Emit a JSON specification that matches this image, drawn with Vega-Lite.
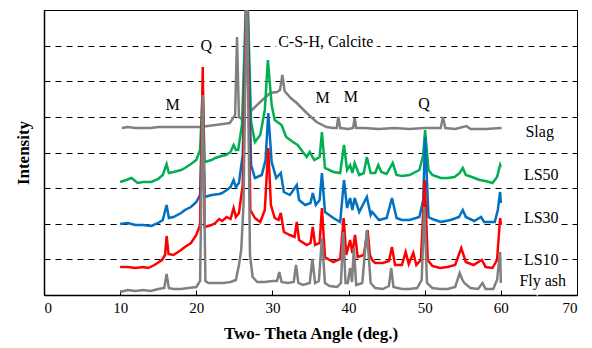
{
 "$schema": "https://vega.github.io/schema/vega-lite/v6.json",
 "width": 533, "height": 285,
 "autosize": {"type": "none"},
 "padding": {"left": 44, "top": 10, "right": 15, "bottom": 53},
 "background": "white",
 "config": {"view": {"stroke": "black", "strokeWidth": 1}, "font": "Liberation Serif"},
 "datasets": {
  "flyash": [
   {"t":10,"v":3},{"t":11,"v":5},{"t":12,"v":4},{"t":13,"v":5},{"t":14,"v":4},{"t":15,"v":6},{"t":15.8,"v":7},{"t":16.1,"v":21},{"t":16.4,"v":7},{"t":17,"v":6},{"t":18,"v":6},{"t":19,"v":7},{"t":20,"v":8},{"t":20.5,"v":14},{"t":20.85,"v":200},{"t":21.2,"v":14},{"t":21.6,"v":12},{"t":22.5,"v":12},{"t":23.5,"v":12},{"t":24.5,"v":13},{"t":25.2,"v":15},{"t":25.6,"v":30},{"t":25.9,"v":45},{"t":26.2,"v":90},{"t":26.65,"v":320},{"t":27.05,"v":40},{"t":27.4,"v":18},{"t":28,"v":13},{"t":29,"v":13},{"t":30,"v":14},{"t":30.6,"v":14},{"t":30.9,"v":23},{"t":31.2,"v":13},{"t":32,"v":12},{"t":32.8,"v":13},{"t":33.1,"v":30},{"t":33.4,"v":12},{"t":34,"v":10},{"t":34.9,"v":12},{"t":35.25,"v":36},{"t":35.6,"v":12},{"t":36.1,"v":14},{"t":36.5,"v":57},{"t":36.9,"v":12},{"t":37.5,"v":9},{"t":38.5,"v":8},{"t":39,"v":12},{"t":39.3,"v":63},{"t":39.6,"v":12},{"t":39.9,"v":12},{"t":40.2,"v":27},{"t":40.45,"v":13},{"t":40.7,"v":47},{"t":41,"v":10},{"t":41.8,"v":12},{"t":42.4,"v":65},{"t":42.9,"v":12},{"t":43.5,"v":7},{"t":44.5,"v":6},{"t":45.3,"v":9},{"t":45.6,"v":27},{"t":45.9,"v":8},{"t":47,"v":6},{"t":48,"v":6},{"t":49,"v":7},{"t":49.6,"v":15},{"t":49.95,"v":88},{"t":50.3,"v":12},{"t":51,"v":7},{"t":52,"v":6},{"t":53,"v":6},{"t":54,"v":8},{"t":54.6,"v":22},{"t":54.9,"v":16},{"t":55.2,"v":12},{"t":56,"v":7},{"t":57,"v":6},{"t":57.6,"v":12},{"t":58,"v":6},{"t":59,"v":6},{"t":59.5,"v":15},{"t":59.9,"v":43},{"t":60,"v":12}
  ],
  "ls10": [
   {"t":10,"v":28},{"t":11,"v":28},{"t":12,"v":27},{"t":13,"v":28},{"t":13.7,"v":27},{"t":14.5,"v":30},{"t":15.5,"v":35},{"t":15.9,"v":40},{"t":16.1,"v":59},{"t":16.35,"v":41},{"t":17,"v":40},{"t":18,"v":45},{"t":18.5,"v":48},{"t":19.3,"v":52},{"t":20,"v":60},{"t":20.5,"v":70},{"t":20.85,"v":228},{"t":21.1,"v":68},{"t":22,"v":70},{"t":22.5,"v":72},{"t":23,"v":76},{"t":23.4,"v":74},{"t":24,"v":78},{"t":24.5,"v":76},{"t":24.9,"v":87},{"t":25.2,"v":78},{"t":25.6,"v":82},{"t":26.1,"v":110},{"t":26.65,"v":320},{"t":27.1,"v":85},{"t":27.7,"v":77},{"t":28.4,"v":73},{"t":29,"v":85},{"t":29.45,"v":147},{"t":29.8,"v":90},{"t":30.3,"v":77},{"t":30.8,"v":75},{"t":31.1,"v":82},{"t":31.5,"v":63},{"t":32.3,"v":60},{"t":32.9,"v":58},{"t":33.2,"v":73},{"t":33.5,"v":55},{"t":34.5,"v":50},{"t":35,"v":52},{"t":35.3,"v":68},{"t":35.6,"v":50},{"t":36.2,"v":52},{"t":36.5,"v":87},{"t":36.9,"v":38},{"t":37.5,"v":35},{"t":38,"v":33},{"t":38.9,"v":36},{"t":39.35,"v":77},{"t":39.7,"v":40},{"t":40.2,"v":55},{"t":40.5,"v":42},{"t":40.85,"v":60},{"t":41.2,"v":38},{"t":42,"v":40},{"t":42.5,"v":65},{"t":42.8,"v":40},{"t":43.1,"v":35},{"t":43.5,"v":32},{"t":44.5,"v":32},{"t":45.3,"v":34},{"t":45.7,"v":48},{"t":46.1,"v":30},{"t":47,"v":30},{"t":47.5,"v":43},{"t":47.9,"v":31},{"t":48.5,"v":42},{"t":48.9,"v":30},{"t":49.5,"v":35},{"t":50,"v":115},{"t":50.4,"v":35},{"t":51,"v":29},{"t":52,"v":27},{"t":53,"v":28},{"t":54,"v":30},{"t":54.8,"v":47},{"t":55.4,"v":33},{"t":56.4,"v":30},{"t":57.5,"v":35},{"t":58,"v":28},{"t":58.9,"v":27},{"t":59.5,"v":35},{"t":59.9,"v":77},{"t":60,"v":70}
  ],
  "ls30": [
   {"t":10,"v":71},{"t":11,"v":72},{"t":12,"v":70},{"t":13,"v":70},{"t":14.1,"v":69},{"t":15,"v":72},{"t":15.6,"v":75},{"t":16.1,"v":90},{"t":16.4,"v":77},{"t":17,"v":78},{"t":18,"v":82},{"t":18.5,"v":85},{"t":19.3,"v":88},{"t":20,"v":93},{"t":20.5,"v":100},{"t":20.85,"v":195},{"t":21.1,"v":98},{"t":22,"v":100},{"t":23,"v":101},{"t":23.4,"v":102},{"t":24,"v":105},{"t":24.5,"v":108},{"t":24.9,"v":115},{"t":25.2,"v":108},{"t":25.6,"v":112},{"t":26.1,"v":140},{"t":26.65,"v":320},{"t":27.2,"v":130},{"t":27.7,"v":117},{"t":28.6,"v":120},{"t":29.1,"v":135},{"t":29.45,"v":182},{"t":29.9,"v":133},{"t":30.5,"v":117},{"t":31.1,"v":122},{"t":31.5,"v":103},{"t":32.3,"v":100},{"t":33.2,"v":110},{"t":33.5,"v":95},{"t":34.3,"v":90},{"t":35,"v":92},{"t":35.3,"v":102},{"t":35.7,"v":90},{"t":36.2,"v":95},{"t":36.5,"v":122},{"t":36.9,"v":83},{"t":38,"v":77},{"t":38.9,"v":73},{"t":39.4,"v":115},{"t":39.8,"v":87},{"t":40.2,"v":97},{"t":40.5,"v":85},{"t":40.8,"v":97},{"t":41.4,"v":83},{"t":42.4,"v":98},{"t":42.9,"v":80},{"t":43.1,"v":83},{"t":44,"v":75},{"t":45,"v":77},{"t":45.7,"v":97},{"t":46.3,"v":77},{"t":47,"v":75},{"t":48,"v":75},{"t":49.3,"v":78},{"t":49.8,"v":95},{"t":50.05,"v":158},{"t":50.5,"v":78},{"t":51,"v":76},{"t":52.1,"v":73},{"t":53.4,"v":75},{"t":54.5,"v":78},{"t":55,"v":85},{"t":55.4,"v":78},{"t":56.5,"v":74},{"t":57.4,"v":78},{"t":57.8,"v":73},{"t":58.5,"v":73},{"t":59.2,"v":73},{"t":59.6,"v":85},{"t":59.9,"v":103},{"t":60,"v":92}
  ],
  "ls50": [
   {"t":10,"v":113},{"t":10.8,"v":115},{"t":11.5,"v":117},{"t":12.3,"v":112},{"t":13,"v":113},{"t":14.1,"v":113},{"t":15,"v":116},{"t":15.6,"v":120},{"t":16.1,"v":131},{"t":16.4,"v":122},{"t":17,"v":123},{"t":18,"v":125},{"t":18.5,"v":127},{"t":19.3,"v":131},{"t":20,"v":135},{"t":20.5,"v":145},{"t":20.85,"v":205},{"t":21.1,"v":133},{"t":22,"v":135},{"t":22.5,"v":137},{"t":23.3,"v":139},{"t":23.9,"v":140},{"t":24.5,"v":143},{"t":24.9,"v":150},{"t":25.2,"v":145},{"t":25.5,"v":145},{"t":26,"v":170},{"t":26.65,"v":320},{"t":27.2,"v":173},{"t":27.7,"v":153},{"t":28.4,"v":160},{"t":29,"v":185},{"t":29.4,"v":235},{"t":29.9,"v":190},{"t":30.3,"v":175},{"t":31.2,"v":170},{"t":31.8,"v":158},{"t":32.7,"v":153},{"t":33.3,"v":150},{"t":34,"v":143},{"t":34.5,"v":138},{"t":34.9,"v":143},{"t":35.5,"v":135},{"t":36.2,"v":138},{"t":36.5,"v":163},{"t":36.9,"v":127},{"t":38,"v":123},{"t":38.9,"v":122},{"t":39.4,"v":150},{"t":39.8,"v":125},{"t":40.2,"v":130},{"t":40.5,"v":122},{"t":40.8,"v":132},{"t":41.4,"v":120},{"t":42,"v":122},{"t":42.4,"v":138},{"t":42.9,"v":122},{"t":43.5,"v":122},{"t":43.9,"v":130},{"t":44.3,"v":123},{"t":45,"v":121},{"t":45.8,"v":132},{"t":46.3,"v":120},{"t":47,"v":119},{"t":48,"v":120},{"t":49.3,"v":125},{"t":49.8,"v":140},{"t":50.05,"v":165},{"t":50.5,"v":125},{"t":51,"v":120},{"t":52.1,"v":117},{"t":53,"v":117},{"t":53.9,"v":118},{"t":54.6,"v":122},{"t":55,"v":127},{"t":55.4,"v":120},{"t":56.2,"v":118},{"t":57.2,"v":115},{"t":58,"v":114},{"t":58.9,"v":112},{"t":59.5,"v":118},{"t":59.9,"v":130},{"t":60,"v":128}
  ],
  "slag": [
   {"t":10.2,"v":167},{"t":11,"v":168},{"t":12,"v":167},{"t":13,"v":167},{"t":14,"v":167},{"t":15,"v":168},{"t":16,"v":168},{"t":17,"v":168},{"t":18,"v":168},{"t":19,"v":168},{"t":20,"v":168},{"t":20.5,"v":168},{"t":21.5,"v":169},{"t":22.5,"v":170},{"t":23.5,"v":171},{"t":24.4,"v":172},{"t":25.1,"v":180},{"t":25.35,"v":258},{"t":25.6,"v":178},{"t":26,"v":176},{"t":26.3,"v":180},{"t":26.65,"v":320},{"t":27,"v":183},{"t":27.3,"v":185},{"t":28.4,"v":193},{"t":29.7,"v":202},{"t":30.6,"v":203},{"t":31,"v":205},{"t":31.3,"v":220},{"t":31.6,"v":204},{"t":32.4,"v":197},{"t":33.2,"v":192},{"t":34.5,"v":182},{"t":35.8,"v":173},{"t":37.1,"v":168},{"t":38,"v":167},{"t":38.45,"v":167},{"t":38.65,"v":178},{"t":38.9,"v":167},{"t":40,"v":166},{"t":40.6,"v":167},{"t":40.8,"v":177},{"t":41,"v":167},{"t":42,"v":167},{"t":44,"v":166},{"t":46,"v":167},{"t":48,"v":166},{"t":50,"v":167},{"t":51,"v":167},{"t":52.1,"v":167},{"t":52.4,"v":178},{"t":52.7,"v":167},{"t":54,"v":166},{"t":55.5,"v":169},{"t":56,"v":166},{"t":58,"v":166},{"t":60.1,"v":167}
  ],
  "labels": [
   {"t":16.9,"v":190,"label":"M"},
   {"t":21.3,"v":249,"label":"Q"},
   {"t":37.0,"v":253,"label":"C-S-H, Calcite"},
   {"t":36.6,"v":197,"label":"M"},
   {"t":40.3,"v":198,"label":"M"},
   {"t":49.9,"v":191,"label":"Q"},
   {"t":65.1,"v":163,"label":"Slag"},
   {"t":65.3,"v":120,"label":"LS50"},
   {"t":65.3,"v":77,"label":"LS30"},
   {"t":65.3,"v":35,"label":"LS10"},
   {"t":65.5,"v":14,"label":"Fly ash"}
  ]
 },
 "encoding": {
  "x": {"field": "t", "type": "quantitative",
   "scale": {"domain": [0, 70], "nice": false},
   "axis": {"values": [0,10,20,30,40,50,60,70], "title": "Two- Theta Angle (deg.)",
    "titleFont": "Liberation Serif", "titleFontSize": 17, "titleFontWeight": "bold", "titleColor": "black",
    "labelFont": "Liberation Serif", "labelFontSize": 15, "labelColor": "black",
    "tickSize": -5, "tickColor": "black", "domainColor": "black", "domainWidth": 1.5,
    "grid": false, "labelPadding": 10, "titlePadding": 10}},
  "y": {"field": "v", "type": "quantitative",
   "scale": {"domain": [0, 285], "nice": false},
   "axis": {"values": [35.625,71.25,106.875,142.5,178.125,213.75,249.375,285],
    "labels": false, "ticks": false, "domainColor": "black", "domainWidth": 1.5,
    "grid": true, "gridColor": "black", "gridDash": [6,5], "gridWidth": 1.2,
    "title": "Intensity", "titleFont": "Liberation Serif", "titleFontSize": 17, "titleFontWeight": "bold",
    "titleColor": "black", "titlePadding": 12}}
 },
 "layer": [
  {"data": {"name": "labels"}, "mark": {"type": "text", "fontSize": 16, "font": "Liberation Serif", "stroke": "white", "strokeWidth": 8, "fill": "white", "align": "center", "baseline": "middle"}, "encoding": {"text": {"field": "label"}}},
  {"data": {"name": "slag"}, "mark": {"type": "line", "color": "#808080", "strokeWidth": 2.5, "clip": true}},
  {"data": {"name": "ls50"}, "mark": {"type": "line", "color": "#00B050", "strokeWidth": 2.5, "clip": true}},
  {"data": {"name": "ls30"}, "mark": {"type": "line", "color": "#0070C0", "strokeWidth": 2.5, "clip": true}},
  {"data": {"name": "ls10"}, "mark": {"type": "line", "color": "#FF0000", "strokeWidth": 2.5, "clip": true}},
  {"data": {"name": "flyash"}, "mark": {"type": "line", "color": "#808080", "strokeWidth": 2.5, "clip": true}},
  {"data": {"name": "labels"}, "mark": {"type": "text", "fontSize": 16, "font": "Liberation Serif", "color": "black", "align": "center", "baseline": "middle"}, "encoding": {"text": {"field": "label"}}}
 ]
}
